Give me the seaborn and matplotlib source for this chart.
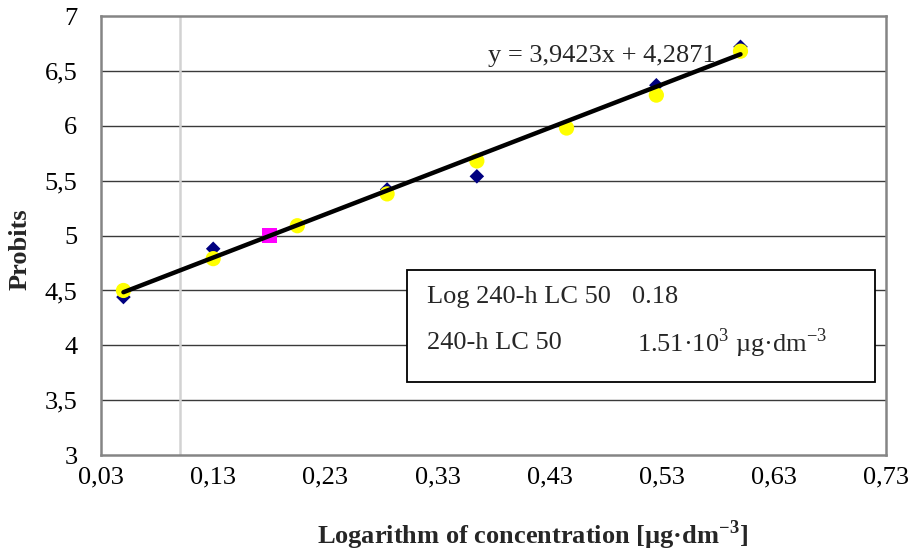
import numpy as np
import pandas as pd
import matplotlib
matplotlib.use('Agg')
import matplotlib.pyplot as plt
from matplotlib.patches import Rectangle
from matplotlib.ticker import FuncFormatter
import seaborn as sns

# --- DATA ---
log_conc_obs = [0.05, 0.13, 0.285, 0.365, 0.525, 0.60]
probit_obs = [4.44, 4.88, 5.42, 5.54, 6.37, 6.72]

log_conc_fit = [0.05, 0.13, 0.205, 0.285, 0.365, 0.445, 0.525, 0.60]
probit_fit = [4.50, 4.79, 5.09, 5.38, 5.68, 5.98, 6.28, 6.68]

lc50_x = [0.18]
lc50_y = [5.0]

SLOPE = 3.9423
INTERCEPT = 4.2871
XTICKS = [0.03, 0.13, 0.23, 0.33, 0.43, 0.53, 0.63, 0.73]
YTICKS = [3, 3.5, 4, 4.5, 5, 5.5, 6, 6.5, 7]

sns.set_theme(style="white")
plt.rcParams['font.family'] = ['Liberation Serif', 'DejaVu Serif']
plt.rcParams['mathtext.fontset'] = 'custom'
plt.rcParams['mathtext.rm'] = 'Liberation Serif'
plt.rcParams['mathtext.bf'] = 'Liberation Serif:bold'

FS = 19

fig = plt.figure(figsize=(9.1, 5.55), dpi=100)
ax = fig.add_axes([0.111, 0.180, 0.863, 0.791])

# grid
for y in YTICKS[1:-1]:
    ax.axhline(y, color='#3a3a3a', lw=1.0, zorder=1)
ax.axvline(0.10, color='#d2d2d2', lw=1.8, zorder=1.5)

sns.scatterplot(x=log_conc_obs, y=probit_obs, ax=ax, marker='D', s=55,
                color='#000080', edgecolor='none', zorder=3)
sns.scatterplot(x=log_conc_fit, y=probit_fit, ax=ax, marker='o', s=120,
                color='#ffff00', edgecolor='none', zorder=4)
sns.scatterplot(x=lc50_x, y=lc50_y, ax=ax, marker='s', s=110,
                color='#ff00ff', edgecolor='none', zorder=4)

line_x = [min(log_conc_fit), max(log_conc_fit)]
line_y = [SLOPE * v + INTERCEPT for v in line_x]
sns.lineplot(x=line_x, y=line_y, ax=ax, color='black', lw=3.2, zorder=5)

ax.set_xlim(0.03, 0.73)
ax.set_ylim(3, 7)
ax.set_xticks(XTICKS)
ax.set_yticks(YTICKS)
ax.xaxis.set_major_formatter(FuncFormatter(lambda v, p: f"{v:.2f}".replace('.', ',')))
ax.yaxis.set_major_formatter(FuncFormatter(lambda v, p: f"{v:g}".replace('.', ',')))
ax.tick_params(axis='both', length=0, labelsize=FS, colors='black')
ax.tick_params(axis='x', pad=8)
ax.tick_params(axis='y', pad=17)

for s in ax.spines.values():
    s.set_color('#858585')
    s.set_linewidth(1.8)

ax.set_ylabel("Probits", fontsize=FS, fontweight='bold')
ax.yaxis.set_label_coords(-0.088, 0.47)
ax.set_xlabel(r"Logarithm of concentration [µg·dm$^{\mathbf{-3}}$]",
              fontsize=FS, fontweight='bold', labelpad=22)
ax.xaxis.label.set_x(0.55)

# trendline equation
ax.text(0.476, 6.64, "y = 3,9423x + 4,2871", fontsize=FS, ha='center', va='center', zorder=6)

# LC50 box
ax.add_patch(Rectangle((0.39, 0.166), 0.596, 0.255, transform=ax.transAxes,
                       facecolor='white', edgecolor='black', lw=1.3, zorder=6))
ax.text(0.415, 0.36, "Log 240-h LC 50", transform=ax.transAxes, fontsize=FS, va='center', zorder=7)
ax.text(0.676, 0.36, "0.18", transform=ax.transAxes, fontsize=FS, va='center', zorder=7)
ax.text(0.415, 0.255, "240-h LC 50", transform=ax.transAxes, fontsize=FS, va='center', zorder=7)
ax.text(0.683, 0.255, r"1.51·10$^{3}$ µg·dm$^{-3}$", transform=ax.transAxes, fontsize=FS,
        va='center', zorder=7)

fig.savefig("out.png", dpi=100)
